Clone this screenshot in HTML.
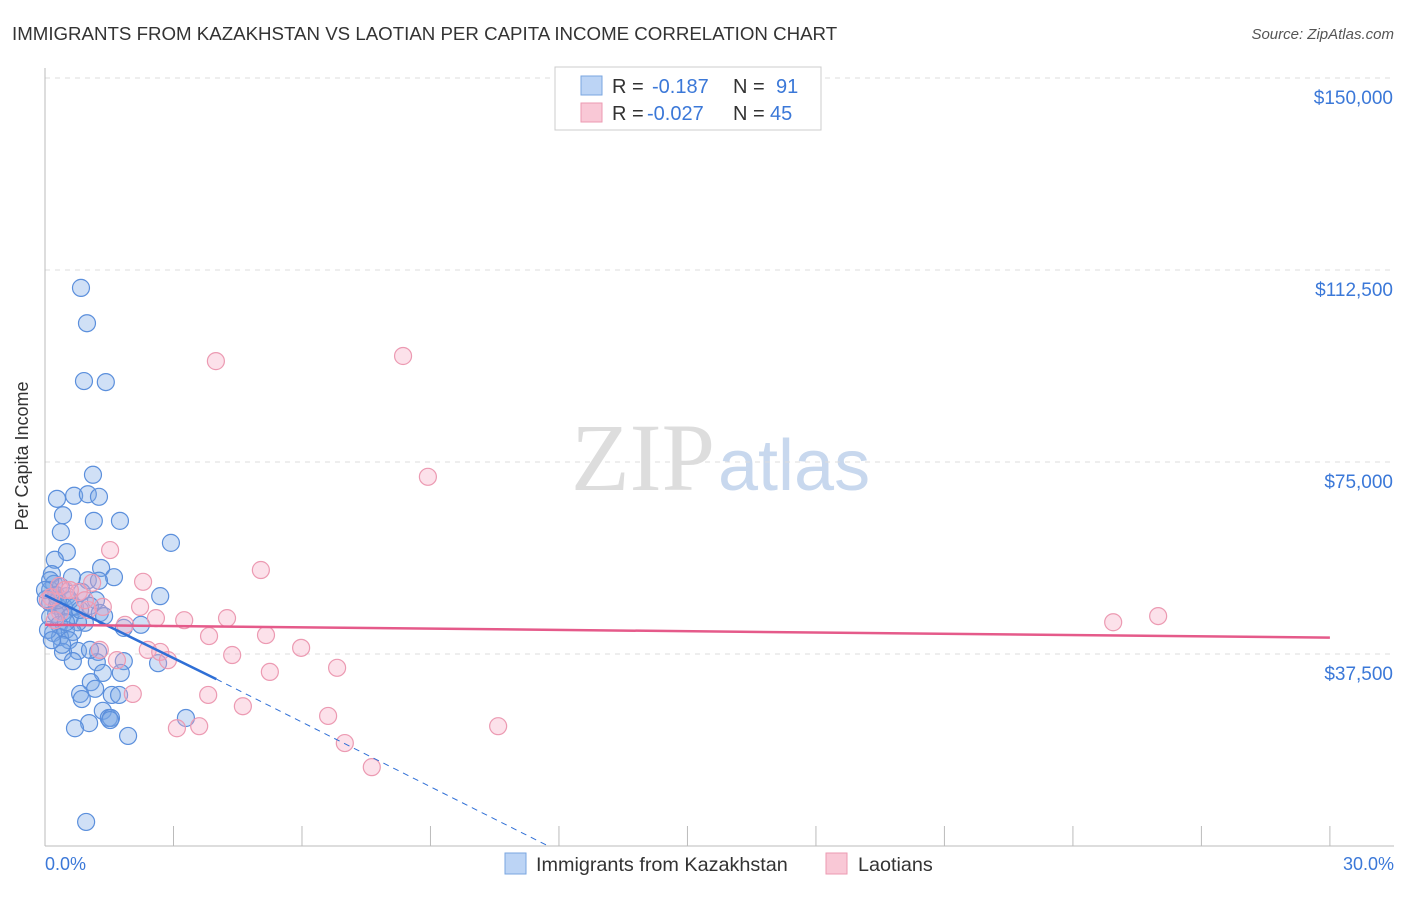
<!DOCTYPE html>
<html><head><meta charset="utf-8"><style>
body{margin:0;background:#fff;font-family:"Liberation Sans",sans-serif}
</style></head><body>
<svg width="1406" height="892" xmlns="http://www.w3.org/2000/svg">
<text x="12" y="40" font-size="18.7" fill="#333">IMMIGRANTS FROM KAZAKHSTAN VS LAOTIAN PER CAPITA INCOME CORRELATION CHART</text>
<text x="1394" y="39" font-size="15" fill="#555" font-style="italic" text-anchor="end">Source: ZipAtlas.com</text>
<text x="715" y="490" font-size="96" fill="#ddd" text-anchor="end" font-family="Liberation Serif">ZIP</text>
<text x="718" y="490" font-size="72" fill="#c8d8ee">atlas</text>
<g id="grid"></g>
<line x1="45" y1="68" x2="45" y2="846" stroke="#bbb"/>
<line x1="45" y1="846" x2="1394" y2="846" stroke="#bbb"/>
<text x="28" y="456" font-size="18" fill="#333" text-anchor="middle" transform="rotate(-90 28 456)">Per Capita Income</text>
<text x="45" y="870" font-size="18" fill="#3b78d8">0.0%</text>
<text x="1394" y="870" font-size="18" fill="#3b78d8" text-anchor="end">30.0%</text>
<g id="pts"></g>
<g id="lines"></g>
<rect x="555" y="67" width="266" height="63" fill="#fff" stroke="#ccc"/>
<rect x="581" y="76" width="21" height="19" fill="#bcd4f5" stroke="#7aa6e0"/>
<rect x="581" y="103" width="21" height="19" fill="#f9c8d6" stroke="#ec9ab2"/>
<text x="612" y="93" font-size="20" fill="#333">R = <tspan x="652" fill="#3b78d8">-0.187</tspan><tspan x="733">N = </tspan><tspan x="776" fill="#3b78d8">91</tspan></text>
<text x="612" y="120" font-size="20" fill="#333">R = <tspan x="647" fill="#3b78d8">-0.027</tspan><tspan x="733">N = </tspan><tspan x="770" fill="#3b78d8">45</tspan></text>
<rect x="505" y="853" width="21" height="21" fill="#bcd4f5" stroke="#7aa6e0"/>
<text x="536" y="871" font-size="19.8" fill="#333">Immigrants from Kazakhstan</text>
<rect x="826" y="853" width="21" height="21" fill="#f9c8d6" stroke="#ec9ab2"/>
<text x="858" y="871" font-size="19.8" fill="#333">Laotians</text>
</svg>
<script>
const yTicks=[37.5,75,112.5,150];
const yTickLabels=["$37,500","$75,000","$112,500","$150,000"];
const xTicks=[0,3,6,9,12,15,18,21,24,27,30];
// x in %, y in $ thousands
const blueX=[0.84,0.98,0.91,1.42,1.12,0.28,0.68,1.00,1.26,0.42,1.14,1.75,0.37,2.94,0.51,0.23,0.16,1.31,1.61,0.63,1.00,1.26,0.21,0.37,2.69,0.12,0.86,0.51,1.19,0.12,0.28,0.44,0.70,1.05,1.28,1.38,0.26,0.42,0.58,0.12,0.93,0.33,0.77,0.49,1.84,2.24,0.65,0.19,0.35,0.56,1.24,0.77,0.42,1.84,1.21,0.65,2.64,1.35,1.77,1.07,0.82,1.17,0.86,1.56,1.73,1.35,1.49,1.54,3.29,1.03,0.70,1.94,0.96,0.12,0.02,0.26,0.58,0.82,0.07,0.40,0.16,1.05,1.52,0.49,0.30,0.00];
const blueY=[109.0,102.1,90.8,90.6,72.5,67.8,68.4,68.7,68.2,64.6,63.5,63.5,61.3,59.2,57.4,55.9,53.1,54.3,52.5,52.5,51.9,51.8,51.2,50.6,48.8,50.0,49.6,48.8,48.0,47.5,46.9,46.7,46.7,46.9,45.5,44.9,45.3,45.7,44.7,44.7,43.6,43.2,43.7,42.2,42.6,43.2,41.8,41.6,40.8,40.2,37.9,38.1,37.9,36.1,35.9,36.1,35.7,33.8,33.8,32.0,29.7,30.7,28.7,29.5,29.5,26.4,25.0,25.0,25.0,24.0,23.0,21.5,4.7,51.9,48.2,49.0,48.0,46.1,42.2,39.3,40.2,38.3,24.6,43.7,48.0,50.0];
const pinkX=[3.99,8.36,8.94,1.52,5.04,2.29,0.33,1.10,0.47,0.79,0.14,2.22,1.35,3.25,4.25,2.59,3.83,5.16,4.37,5.98,5.25,6.82,1.28,1.68,2.40,2.69,2.87,3.81,2.05,4.62,6.61,3.08,3.60,10.58,7.00,7.63,24.94,25.99,0.35,0.23,1.87,1.00,0.07,0.58,0.93];
const pinkY=[94.7,95.7,72.1,57.8,53.9,51.6,50.8,51.4,50.0,49.6,48.6,46.7,46.7,44.1,44.5,44.5,41.0,41.2,37.3,38.7,34.0,34.8,38.3,36.3,38.3,37.9,36.3,29.5,29.7,27.3,25.4,23.0,23.4,23.4,20.1,15.4,43.7,44.9,45.7,44.1,43.2,46.1,48.0,50.0,48.0];
const blueTrendX=[0,4,11.75];
const blueTrendY=[49.0,32.6,0];
const pinkTrendX=[0,30];
const pinkTrendY=[43.2,40.7];
const X=v=>45+v*42.83, Y=v=>846-v*1000/195.3;
const NS="http://www.w3.org/2000/svg";
function mk(t,a,parent){const e=document.createElementNS(NS,t);for(const k in a)e.setAttribute(k,a[k]);document.getElementById(parent).appendChild(e);return e;}
yTicks.forEach((t,i)=>{
 const l=mk('line',{x1:45,x2:1394,y1:Y(t),y2:Y(t),stroke:'#ddd','stroke-dasharray':'5,5'},'grid');
 
 
 const tx=mk('text',{x:1393,y:Y(t)+26,'font-size':19,fill:'#3b78d8','text-anchor':'end'},'grid');
 tx.textContent=yTickLabels[i];
 
 
});
xTicks.forEach(t=>{
 const l=mk('line',{x1:X(t),x2:X(t),y1:826,y2:846,stroke:'#bbb'},'grid');
 
 
});
blueX.forEach((x,i)=>{
 const c=mk('circle',{cx:X(x),cy:Y(blueY[i]),r:8.5,fill:'rgba(120,166,230,0.35)',stroke:'#5b8fdc','stroke-width':1.2},'pts');
 
 
});
pinkX.forEach((x,i)=>{
 const c=mk('circle',{cx:X(x),cy:Y(pinkY[i]),r:8.5,fill:'rgba(245,170,195,0.35)',stroke:'#ec9ab2','stroke-width':1.2},'pts');
 
 
});
const b1=mk('line',{x1:X(blueTrendX[0]),y1:Y(blueTrendY[0]),x2:X(blueTrendX[1]),y2:Y(blueTrendY[1]),stroke:'#2f6fd6','stroke-width':2.5},'lines');


const b2=mk('line',{x1:X(blueTrendX[1]),y1:Y(blueTrendY[1]),x2:X(blueTrendX[2]),y2:Y(blueTrendY[2]),stroke:'#2f6fd6','stroke-width':1,'stroke-dasharray':'6,5'},'lines');


const p1=mk('line',{x1:X(pinkTrendX[0]),y1:Y(pinkTrendY[0]),x2:X(pinkTrendX[1]),y2:Y(pinkTrendY[1]),stroke:'#e55a8a','stroke-width':2.5},'lines');


</script>
</body></html>
